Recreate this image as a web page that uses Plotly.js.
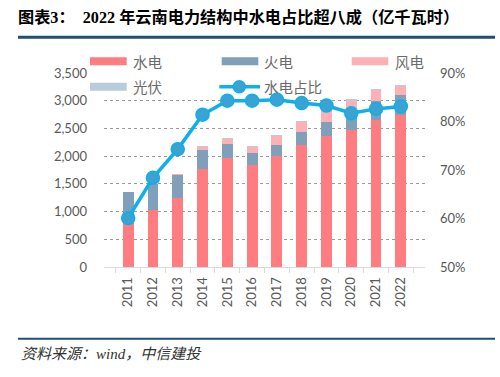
<!DOCTYPE html>
<html>
<head>
<meta charset="utf-8">
<script src="https://cdn.plot.ly/plotly-3.0.1.min.js"></script>
<style>
html,body{margin:0;padding:0;background:#fff;}
#chart{width:500px;height:377px;}
</style>
</head>
<body>
<div id="chart"></div>
<script>
// ---- data (亿千瓦时) ----
const years = ['2011','2012','2013','2014','2015','2016','2017','2018','2019','2020','2021','2022'];
const hydro   = [798, 1027, 1251, 1765, 1958, 1837, 2006, 2200, 2357, 2472, 2653, 2744];
const thermal = [555, 466, 405, 350, 260, 218, 194, 241, 254, 381, 339, 363];
const wind    = [0, 5, 22, 55, 90, 110, 165, 180, 200, 140, 205, 160];
const solar   = [0, 0, 2, 6, 13, 15, 18, 20, 20, 30, 20, 25];
const hydroShare = [0.601, 0.684, 0.743, 0.814, 0.843, 0.843, 0.845, 0.838, 0.833, 0.817, 0.826, 0.831];
const seriesNames = ['水电', '火电', '风电', '光伏', '水电占比'];
const leftTicks = [0, 500, 1000, 1500, 2000, 2500, 3000, 3500];
const leftTickText = ['0', '500', '1,000', '1,500', '2,000', '2,500', '3,000', '3,500'];

const colors = {hydro:'#FF7C80', thermal:'#7F9FBA', wind:'#FFB0B5', solar:'#B8CCDB', line:'#0FAFEA', marker:'#3BA3D3'};
const tickFont = {family:'Lato, "Noto Sans CJK SC", sans-serif', size:13, color:'#595959'};
const cjk = '"Noto Sans CJK SC", sans-serif';

// plot area in pixels (for decorations)
const PL = 104, PR = 425, PT = 73.3, PB = 267.3;
const px = x => (x - PL) / (PR - PL);
const py = y => (PB - y) / (PB - PT);

const barBase = {type:'bar', x:years, width:0.44, showlegend:false, hoverinfo:'y+name'};
const traces = [
  Object.assign({}, barBase, {name:seriesNames[0], y:hydro, marker:{color:colors.hydro}}),
  Object.assign({}, barBase, {name:seriesNames[1], y:thermal, marker:{color:colors.thermal}}),
  Object.assign({}, barBase, {name:seriesNames[2], y:wind, marker:{color:colors.wind}}),
  Object.assign({}, barBase, {name:seriesNames[3], y:solar, marker:{color:colors.solar}}),
  {type:'scatter', mode:'lines+markers', name:seriesNames[4], x:years, y:hydroShare, yaxis:'y2',
   showlegend:false, cliponaxis:false,
   line:{color:colors.line, width:3.5},
   marker:{size:13, color:colors.marker, line:{color:colors.line, width:1.5}}}
];

// manual legend (wide swatches like the original)
const legendItems = [
  {name:seriesNames[0], kind:'bar', color:colors.hydro,   x0:90,  x1:126.7, xt:130.5, y:61.5},
  {name:seriesNames[1], kind:'bar', color:colors.thermal, x0:221.7, x1:258.3, xt:261.5, y:61.5},
  {name:seriesNames[2], kind:'bar', color:colors.wind,    x0:351.7, x1:388.3, xt:392.5, y:61.5},
  {name:seriesNames[3], kind:'bar', color:colors.solar,   x0:90,  x1:126.7, xt:130.5, y:87},
  {name:seriesNames[4], kind:'line', color:colors.line,   x0:219.3, x1:260, xt:261.5, y:87}
];
const shapes = [];
const annotations = [];
legendItems.forEach(it => {
  if (it.kind === 'bar') {
    shapes.push({type:'rect', xref:'paper', yref:'paper', x0:px(it.x0), x1:px(it.x1),
      y0:py(it.y+4), y1:py(it.y-4), fillcolor:it.color, line:{width:0}});
  } else {
    shapes.push({type:'line', xref:'paper', yref:'paper', x0:px(it.x0), x1:px(it.x1),
      y0:py(it.y), y1:py(it.y), line:{color:it.color, width:3.5}});
    shapes.push({type:'circle', xref:'paper', yref:'paper', x0:px(it.x0+20-6), x1:px(it.x0+20+6),
      y0:py(it.y+6), y1:py(it.y-6), fillcolor:colors.marker, line:{color:colors.line, width:1.5}});
  }
  annotations.push({xref:'paper', yref:'paper', x:px(it.xt), y:py(it.y), xanchor:'left', yanchor:'middle',
    text:it.name, showarrow:false, font:{family:cjk, size:14.5, color:'#6B6B6B'}});
});

// header / footer rules
shapes.push({type:'line', xref:'paper', yref:'paper', x0:px(18), x1:px(495), y0:py(37.5), y1:py(37.5),
  line:{color:'#1F4E79', width:3}});
shapes.push({type:'line', xref:'paper', yref:'paper', x0:px(18), x1:px(495), y0:py(339), y1:py(339),
  line:{color:'#1F4E79', width:2}});
annotations.push({xref:'paper', yref:'paper', x:px(19), y:py(354), xanchor:'left', yanchor:'middle',
  text:'<i>资料来源：wind，中信建投</i>', showarrow:false,
  font:{family:'"Liberation Serif", "Noto Sans CJK SC", serif', size:15, color:'#333333'}});

const layout = {
  width:500, height:377,
  margin:{l:PL, r:500-PR, t:PT, b:377-PB, pad:0},
  paper_bgcolor:'#ffffff', plot_bgcolor:'#ffffff',
  barmode:'stack',
  title:{text:'<b>图表3：  2022 年云南电力结构中水电占比超八成（亿千瓦时）</b>',
    x:18/500, xanchor:'left', xref:'container', y:1-17/377, yanchor:'middle', yref:'container',
    font:{family:'"Liberation Serif", "Noto Sans CJK SC", serif', size:16.2, color:'#000000'}},
  xaxis:{type:'category', tickangle:-90, tickfont:tickFont, showline:true, linecolor:'#D9D9D9', linewidth:1,
    ticks:'outside', tickson:'boundaries', ticklen:5, tickcolor:'#D9D9D9', showgrid:false, zeroline:false,
    ticklabelstandoff:4},
  yaxis:{range:[0,3500], tickvals:leftTicks, ticktext:leftTickText, tickfont:tickFont,
    showgrid:true, gridcolor:'#9A9A9A', griddash:'dot', gridwidth:1, zeroline:false, showline:false,
    ticks:'', ticklabelstandoff:16},
  yaxis2:{range:[0.5,0.9], overlaying:'y', side:'right', tickformat:'.0%', dtick:0.1, tick0:0.5,
    tickfont:tickFont, showgrid:false, zeroline:false, showline:false, ticks:'', ticklabelstandoff:14},
  shapes:shapes,
  annotations:annotations,
  showlegend:false,
  font:{family:cjk}
};

Plotly.newPlot('chart', traces, layout, {displayModeBar:false, staticPlot:true});
</script>
</body>
</html>
